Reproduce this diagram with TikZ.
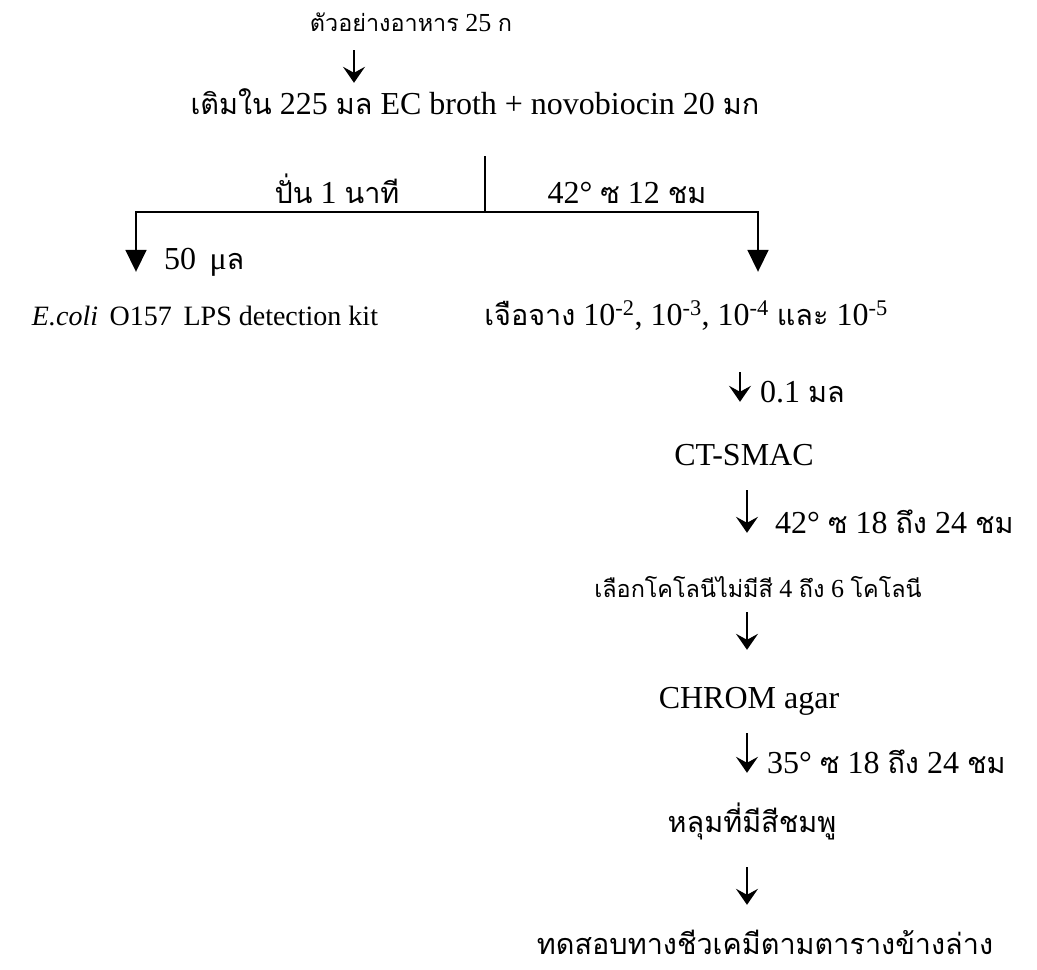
\documentclass[tikz,border=0pt]{standalone}
\usepackage{fontspec}
\setmainfont{Liberation Serif}
\newfontfamily\thaifont[Script=Thai,Scale=0.9]{Loma}
\newcommand{\thx}[1]{{\thaifont #1}}
\usetikzlibrary{arrows.meta}

\tikzset{
  big/.style={inner sep=0pt, anchor=base, font=\fontsize{32}{38}\selectfont,
              text height=24pt, text depth=8pt},
  mid/.style={inner sep=0pt, anchor=base, font=\fontsize{28}{34}\selectfont,
              text height=24pt, text depth=8pt},
  small/.style={inner sep=0pt, anchor=base, font=\fontsize{26}{31}\selectfont,
              text height=19pt, text depth=6pt},
  lbl/.style={inner sep=0pt, anchor=base west, font=\fontsize{32}{38}\selectfont},
  downarrow/.style={line width=2pt, -{Stealth[length=16pt,width=22pt,inset=6pt]}},
  branch/.style={line width=1.8pt, -{Triangle[length=22pt,width=21pt]}},
  stem/.style={line width=1.8pt},
}

\begin{document}
\begin{tikzpicture}[x=1pt, y=-1pt]
  \fill[white] (0,0) rectangle (1037,970);
  \useasboundingbox (0,0) rectangle (1037,970);

  % sample and enrichment
  \node[small] (sample) at (411,31) {\thx{ตัวอย่างอาหาร} 25 \thx{ก}};
  \node[big] (enrich) at (475,114)
    {\thx{เติมใน} 225 \thx{มล} EC broth + novobiocin 20 \thx{มก}};

  % split points of the two branches
  \coordinate (split) at (485,212);
  \coordinate (lx) at (136,212);
  \coordinate (rx) at (758,212);
  \coordinate (ax1) at (354,0);
  \coordinate (ax2) at (740,0);
  \coordinate (ax) at (747,0);

  \node[big] (spin) at (337,203) {\thx{ปั่น} 1 \thx{นาที}};
  \node[big] (incub) at (627,203) {42° \thx{ซ} 12 \thx{ชม}};

  % branch results
  \node[mid] (kit) at (205,325) {\textit{E.coli}\, O157\, LPS detection kit};
  \node[big] (dil) at (686,325)
    {\thx{เจือจาง} 10\textsuperscript{-2}, 10\textsuperscript{-3}, 10\textsuperscript{-4} \thx{และ} 10\textsuperscript{-5}};
  \node[lbl] (vol50) at (164,269) {50\, μ\thx{ล}};

  % right-hand chain
  \node[big] (smac) at (744,465) {CT-SMAC};
  \node[small] (pick) at (758,597) {\thx{เลือกโคโลนีไม่มีสี} 4 \thx{ถึง} 6 \thx{โคโลนี}};
  \node[big] (chrom) at (749,708) {CHROM agar};
  \node[big] (pink) at (752,832) {\thx{หลุมที่มีสีชมพู}};
  \node[big] (test) at (765,954) {\thx{ทดสอบทางชีวเคมีตามตารางข้างล่าง}};

  \node[lbl] (v01) at (760,402) {0.1 \thx{มล}};
  \node[lbl] (t42) at (775,533) {42° \thx{ซ} 18 \thx{ถึง} 24 \thx{ชม}};
  \node[lbl] (t35) at (767,773) {35° \thx{ซ} 18 \thx{ถึง} 24 \thx{ชม}};

  % connectors
  \draw[downarrow, shorten <=13pt, shorten >=7pt] (sample.south -| ax1) -- (enrich.north -| ax1);
  \draw[stem, shorten <=34pt] (enrich.south -| split) -- (split);
  \draw[branch, shorten >=29pt] (split) -| (kit.north -| lx);
  \draw[branch, shorten >=29pt] (split) -| (dil.north -| rx);
  \draw[downarrow, shorten <=39pt, shorten >=39pt] (dil.south -| ax2) -- (smac.north -| ax2);
  \draw[downarrow, shorten <=17pt, shorten >=45pt] (smac.south -| ax) -- (pick.north -| ax);
  \draw[downarrow, shorten <=9pt, shorten >=34pt] (pick.south -| ax) -- (chrom.north -| ax);
  \draw[downarrow, shorten <=17pt, shorten >=35pt] (chrom.south -| ax) -- (pink.north -| ax);
  \draw[downarrow, shorten <=27pt, shorten >=25pt] (pink.south -| ax) -- (test.north -| ax);
\end{tikzpicture}
\end{document}
